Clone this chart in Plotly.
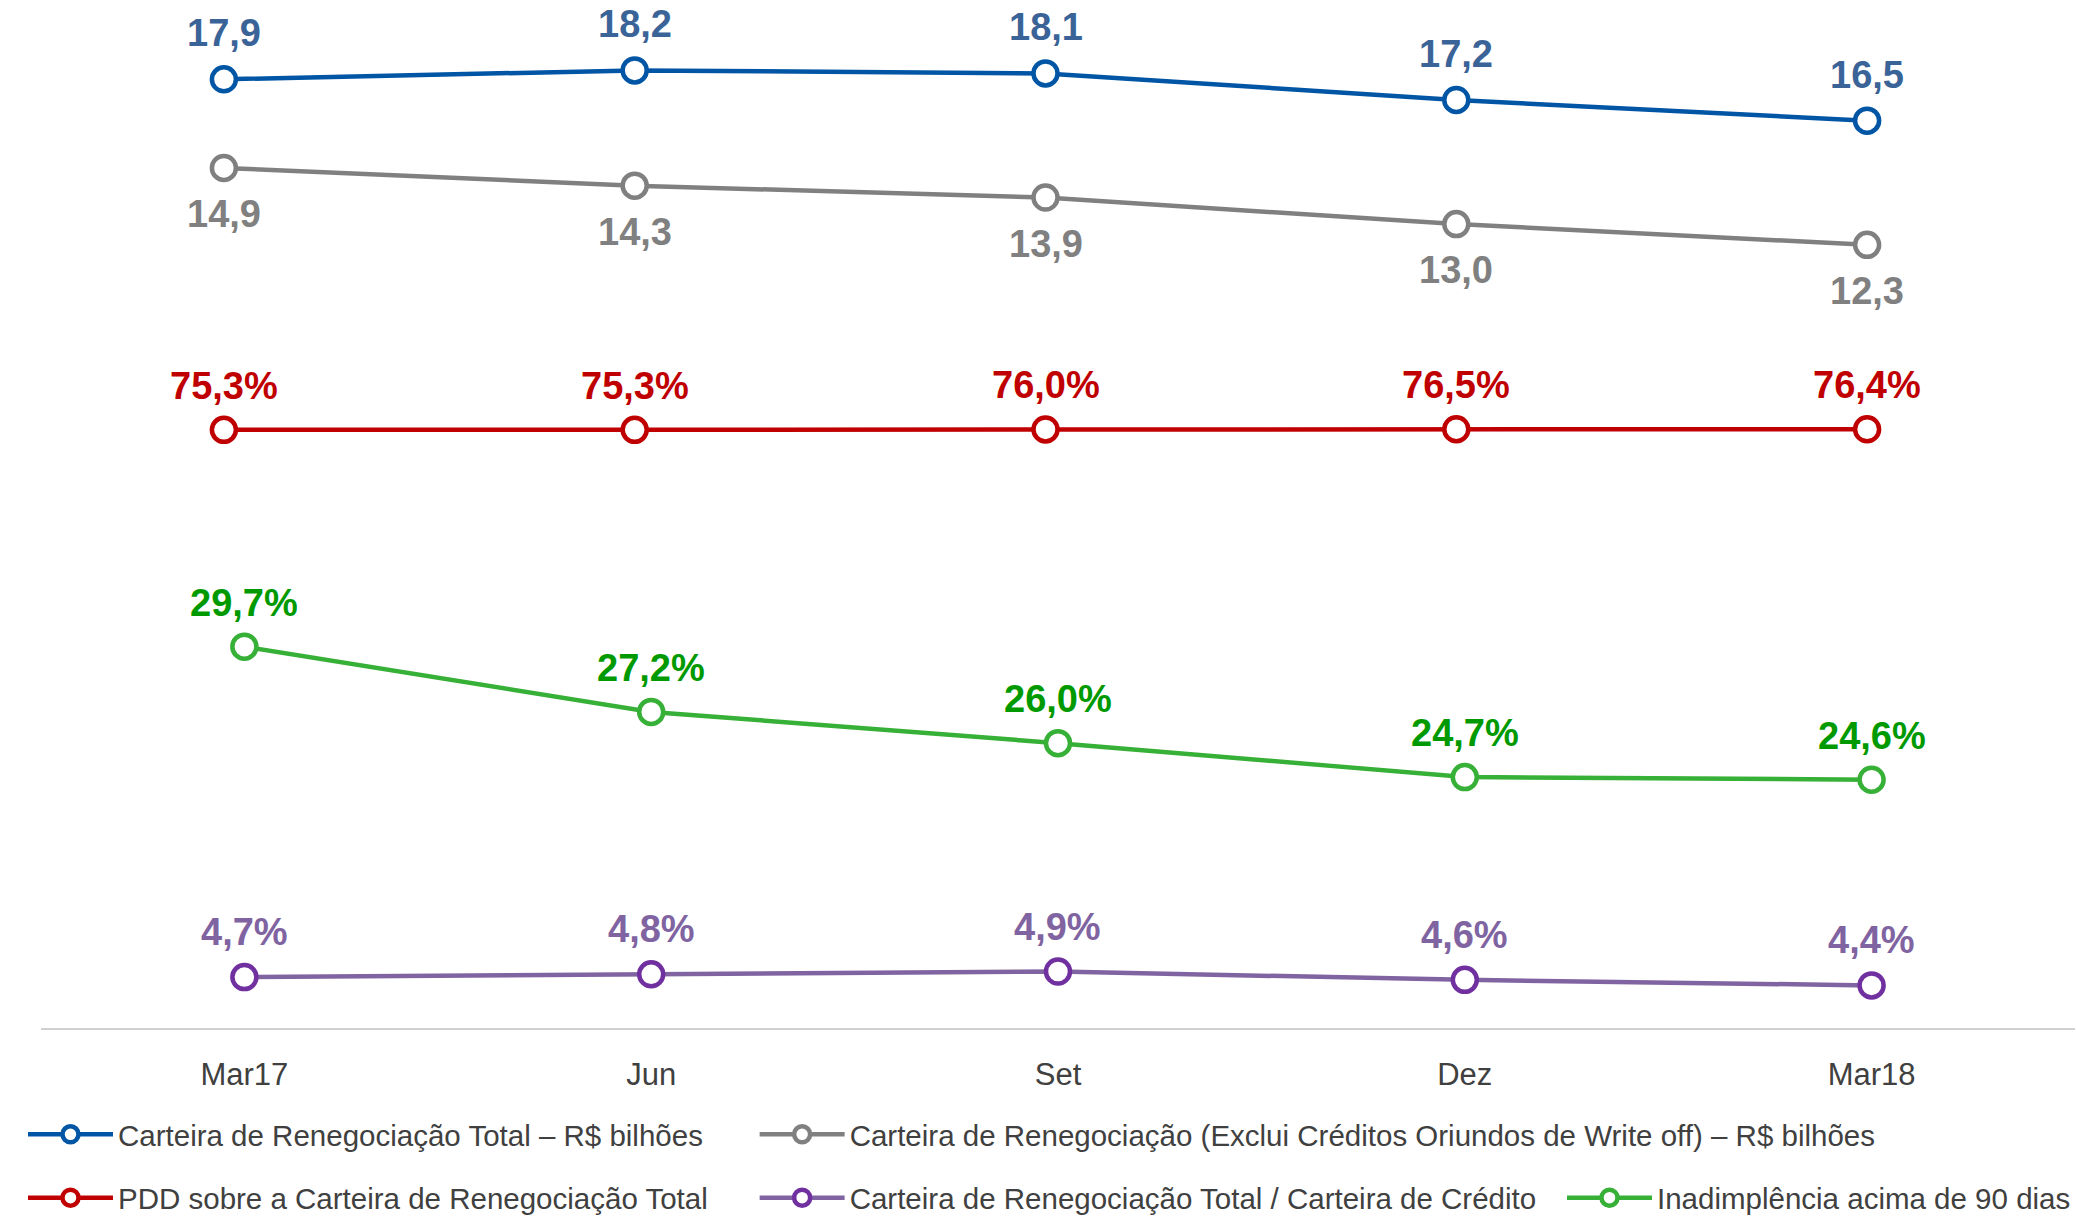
import plotly.graph_objects as go

# ---------------- data ----------------
periods = ["Mar17", "Jun", "Set", "Dez", "Mar18"]
carteira_total = [17.9, 18.2, 18.1, 17.2, 16.5]          # R$ bilhões
carteira_exclui_wo = [14.9, 14.3, 13.9, 13.0, 12.3]      # R$ bilhões
pdd_sobre_carteira = [75.3, 75.3, 76.0, 76.5, 76.4]      # %
inadimplencia_90 = [29.7, 27.2, 26.0, 24.7, 24.6]        # %
carteira_sobre_credito = [4.7, 4.8, 4.9, 4.6, 4.4]       # %

names = [
    "Carteira de Renegociação Total – R$ bilhões",
    "Carteira de Renegociação (Exclui Créditos Oriundos de Write off) – R$ bilhões",
    "PDD sobre a Carteira de Renegociação Total",
    "Carteira de Renegociação Total / Carteira de Crédito",
    "Inadimplência acima de 90 dias",
]

def fmt(v, pct=False):
    s = f"{v:.1f}".replace(".", ",")
    return s + "%" if pct else s

# ---------------- layout geometry ----------------
W, H = 2076, 1224
AXIS_PX = 1036            # y pixel of the bottom axis line
PLOT_H = AXIS_PX
ydom = [(H - AXIS_PX) / H, 1]

def yrange(v0, p0, s):
    """range so that value v0 sits at pixel p0 (from top), s px per unit"""
    r1 = v0 + p0 / s
    return [r1 - PLOT_H / s, r1]

FONT = "Liberation Sans, Arial, sans-serif"
TXT = "#404040"

BLUE, BLUE_T = "#0055A5", "#3A6398"
GRAY = "#808080"
RED = "#C00000"
GREEN, GREEN_T = "#36B036", "#009A00"
PURPLE, PURPLE_M, PURPLE_T = "#8064A2", "#7030A0", "#8064A2"

fig = go.Figure()

def add(y, xa, ya, color, mcolor, name, leg):
    fig.add_trace(go.Scatter(
        x=periods, y=y, xaxis=xa, yaxis=ya, name=name, mode="lines+markers",
        line=dict(color=color, width=4.5),
        marker=dict(size=24, color="white", line=dict(color=mcolor, width=4.5)),
        legend=leg, hoverinfo="skip", cliponaxis=False,
    ))

add(carteira_total, "x2", "y2", BLUE, BLUE, names[0], "legend")
add(carteira_exclui_wo, "x2", "y2", GRAY, GRAY, names[1], "legend2")
add(pdd_sobre_carteira, "x2", "y3", RED, RED, names[2], "legend3")
add(carteira_sobre_credito, "x", "y5", PURPLE, PURPLE_M, names[3], "legend4")
add(inadimplencia_90, "x", "y4", GREEN, GREEN, names[4], "legend5")

ann = []
def labels(vals, xa, ya, color, shift, pct):
    for p, v in zip(periods, vals):
        ann.append(dict(x=p, y=v, xref=xa, yref=ya, text=fmt(v, pct), showarrow=False,
                        yshift=shift, font=dict(family=FONT, size=38, color=color, weight="bold")))

labels(carteira_total, "x2", "y2", BLUE_T, 46, False)
labels(carteira_exclui_wo, "x2", "y2", GRAY, -46, False)
labels(pdd_sobre_carteira, "x2", "y3", RED, 44, True)
labels(inadimplencia_90, "x", "y4", GREEN_T, 44, True)
labels(carteira_sobre_credito, "x", "y5", PURPLE_T, 45, True)

hidden = dict(visible=False, fixedrange=True)

def legend_at(px, py):
    return dict(x=px / W, y=1 - py / H, xanchor="left", yanchor="middle",
                font=dict(family=FONT, size=29.5, color=TXT), bgcolor="rgba(0,0,0,0)",
                itemwidth=85, tracegroupgap=0)

fig.update_layout(
    width=W, height=H, margin=dict(l=0, r=0, t=0, b=0),
    paper_bgcolor="white", plot_bgcolor="rgba(0,0,0,0)",
    font=dict(family=FONT, color=TXT),
    showlegend=True,
    xaxis=dict(domain=[41 / W, 1], range=[-0.5, 4.5], type="category", anchor="y",
               showgrid=False, zeroline=False, showline=True, linecolor="#D0D0D0", linewidth=2,
               ticks="", tickfont=dict(family=FONT, size=31, color=TXT), ticklabelstandoff=18,
               fixedrange=True),
    xaxis2=dict(domain=[18.5 / W, 2073.5 / W], range=[-0.5, 4.5], type="category", anchor="y2",
                **hidden),
    yaxis=dict(domain=ydom, range=[0, 1], anchor="x", **hidden),
    yaxis2=dict(domain=ydom, range=yrange(18.2, 71, 29.8), anchor="x2", **hidden),
    yaxis3=dict(domain=ydom, range=yrange(76.0, 433, 0.5), anchor="x2", **hidden),
    yaxis4=dict(domain=ydom, range=yrange(29.7, 652, 26.3), anchor="x", **hidden),
    yaxis5=dict(domain=ydom, range=yrange(4.9, 979.5, 28.0), anchor="x", **hidden),
    legend=legend_at(23, 1144),
    legend2=legend_at(755, 1144),
    legend3=legend_at(23, 1208),
    legend4=legend_at(755, 1208),
    legend5=legend_at(1563, 1208),
    annotations=ann,
)

fig.write_html("out.html", config={"displayModeBar": False},
               post_script="document.body.style.margin='0';document.body.style.overflow='hidden';")
